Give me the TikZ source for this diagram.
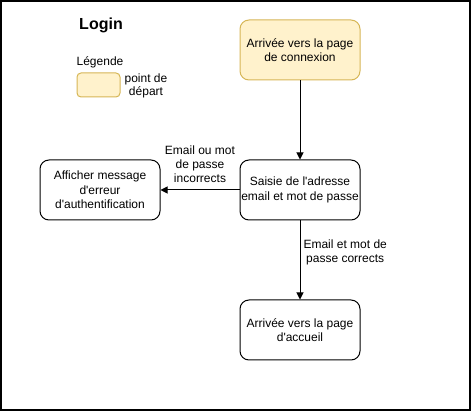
\documentclass[tikz,border=0pt]{standalone}
\usepackage{fontspec}
\setmainfont{Liberation Sans}
\usetikzlibrary{arrows.meta}
\definecolor{departfill}{HTML}{FFF2CC}
\definecolor{departdraw}{HTML}{D6B656}
\newcommand{\apos}{\textquotesingle}
\tikzset{
  etape/.style={draw,line width=1pt,rounded corners=9pt,minimum width=120pt,
    minimum height=60pt,align=center,inner sep=0pt,
    font=\fontsize{12}{14.4}\selectfont},
  depart/.style={etape,fill=departfill,draw=departdraw},
  texte/.style={align=center,inner sep=0pt,font=\fontsize{12}{14}\selectfont},
  fleche/.style={line width=1pt,-{Triangle[length=7pt,width=7pt]}}
}
\begin{document}
\begin{tikzpicture}[x=1pt,y=-1pt]
  \useasboundingbox (0,0) rectangle (471,411);
  \draw[line width=1.5pt] (1,1) rectangle (470,410);
  % titre et legende
  \node[texte,font=\fontsize{16}{19}\selectfont\bfseries] (titre) at (101,25) {Login};
  \node[texte] (legende) at (100,62) {Légende};
  \node[depart,minimum width=43pt,minimum height=24pt,rounded corners=4pt] (exemple) at (98.5,85) {};
  \node[texte,font=\fontsize{12}{13}\selectfont] (explication) at (146,86) {point de\\départ};
  % etapes
  \node[depart] (connexion) at (300,50) {Arrivée vers la page\\de connexion};
  \node[etape] (saisie) at (300,190) {Saisie de l\apos adresse\\email et mot de passe};
  \node[etape] (accueil) at (300,330) {Arrivée vers la page\\d\apos accueil};
  \node[etape] (erreur) at (100,190) {Afficher message\\d\apos erreur\\d\apos authentification};
  % transitions
  \draw[fleche] (connexion) to (saisie);
  \draw[fleche] (saisie) to node[texte,pos=0.4,right=3pt] (ok) {Email et mot de\\passe corrects} (accueil);
  \draw[fleche] (saisie) to node[texte,midway,above=7pt] (ko) {Email ou mot\\de passe\\incorrects} (erreur);
\end{tikzpicture}
\end{document}
